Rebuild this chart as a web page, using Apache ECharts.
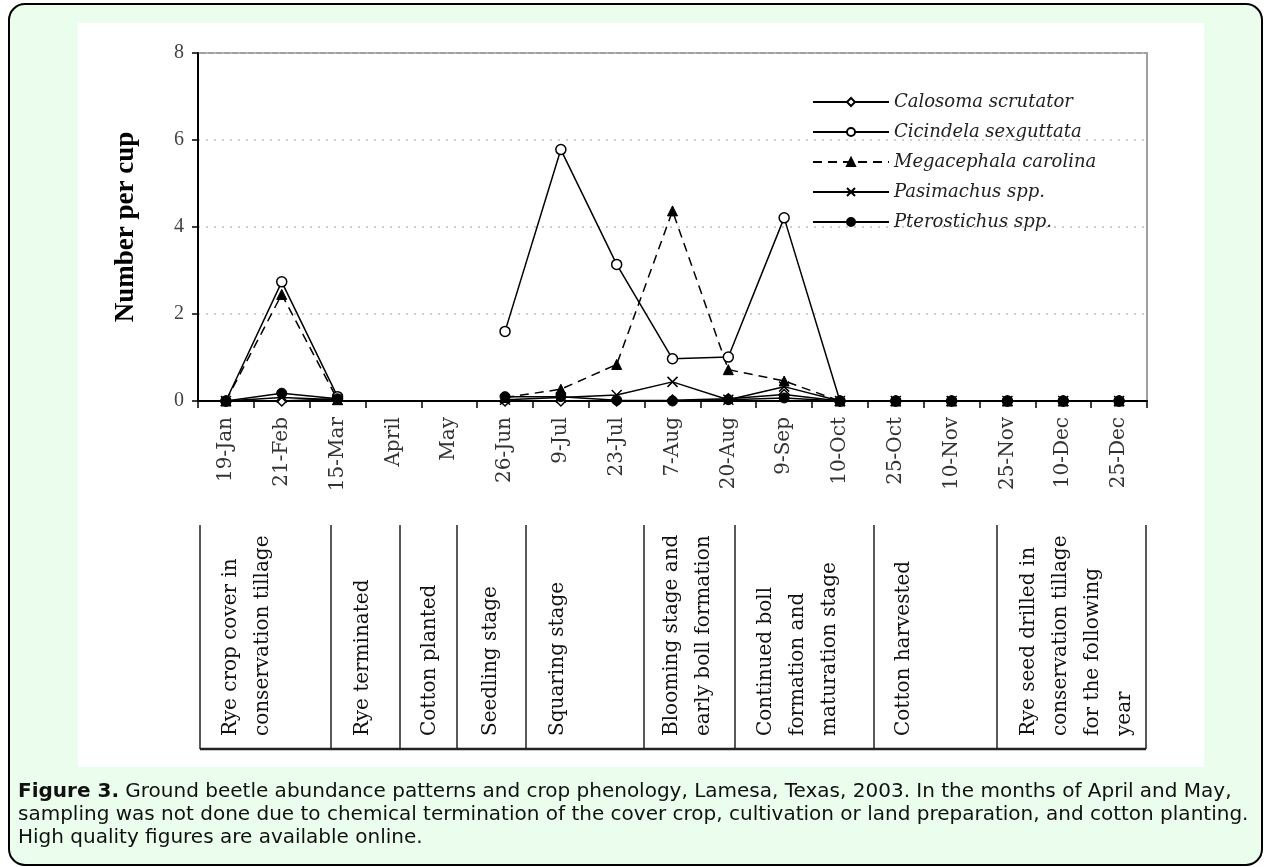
<!DOCTYPE html>
<html><head><meta charset="utf-8">
<script src="https://cdn.jsdelivr.net/npm/echarts/dist/echarts.min.js"></script>
<style>
html,body{margin:0;padding:0;background:#fff;}
#frame{position:absolute;left:8px;top:3px;width:1251px;height:859px;border:2px solid #000;border-radius:17px;background:#ebfdec;}
#panel{position:absolute;left:78px;top:23px;width:1126px;height:744px;background:#fff;}
#c{position:absolute;left:0;top:0;width:1266px;height:867px;}
</style>
</head><body>
<div id="frame"></div><div id="panel"></div>
<div id="c"></div>
<script>
// ---- data ----
const categories = ['19-Jan','21-Feb','15-Mar','April','May','26-Jun','9-Jul','23-Jul','7-Aug','20-Aug','9-Sep','10-Oct','25-Oct','10-Nov','25-Nov','10-Dec','25-Dec'];
const calosoma     = [0, 0,    0.05, null, null, 0,    0,    0,    0.02, 0.05, 0.15, 0, 0, 0, 0, 0, 0];
const cicindela    = [0, 2.74, 0.10, null, null, 1.60, 5.78, 3.14, 0.97, 1.01, 4.21, 0, 0, 0, 0, 0, 0];
const megacephala  = [0, 2.45, 0.03, null, null, 0.08, 0.27, 0.84, 4.37, 0.72, 0.46, 0, 0, 0, 0, 0, 0];
const pasimachus   = [0, 0.08, 0.03, null, null, 0.03, 0.08, 0.14, 0.44, 0.03, 0.33, 0, 0, 0, 0, 0, 0];
const pterostichus = [0, 0.18, 0.05, null, null, 0.10, 0.10, 0.02, 0,    0.03, 0.07, 0, 0, 0, 0, 0, 0];
const seriesNames = ['Calosoma scrutator','Cicindela sexguttata','Megacephala carolina','Pasimachus spp.','Pterostichus spp.'];
const yTickValues = [0, 2, 4, 6, 8];
const stageLabels = [
  ['Rye crop cover in','conservation tillage'],
  ['Rye terminated'],
  ['Cotton planted'],
  ['Seedling stage'],
  ['Squaring stage'],
  ['Blooming stage and','early boll formation'],
  ['Continued boll','formation and','maturation stage'],
  ['Cotton harvested'],
  ['Rye seed drilled in','conservation tillage','for the following','year']
];
const captionLines = [
  '{b|Figure 3.} Ground beetle abundance patterns and crop phenology, Lamesa, Texas, 2003. In the months of April and May,',
  'sampling was not done due to chemical termination of the cover crop, cultivation or land preparation, and cotton planting.',
  'High quality figures are available online.'
];

// ---- layout (pixels) ----
const tableCols = [200, 331, 400, 457, 526, 644, 735, 874, 997, 1146];
const stageTextX = [247, 363, 430, 491, 558, 688, 798, 904, 1077];
const tableTop = 525, tableBottom = 749;

const serif = 'Liberation Serif, Times New Roman, serif';
const baseLine = {color:'#000', width:1.5};

function mkSeries(name, data, symbol, itemStyle, lineType){
  return {
    name, type:'line', data, symbol, symbolSize: 10,
    connectNulls:false, animation:false,
    lineStyle: Object.assign({}, baseLine, lineType ? {type: lineType} : {}),
    itemStyle: itemStyle,
    emphasis:{disabled:true}
  };
}

const graphics = [];
tableCols.forEach(x => graphics.push({type:'line', shape:{x1:x, y1:tableTop, x2:x, y2:tableBottom}, style:{stroke:'#222', lineWidth:1.5}, silent:true}));
graphics.push({type:'line', shape:{x1:tableCols[0], y1:tableBottom, x2:tableCols[tableCols.length-1], y2:tableBottom}, style:{stroke:'#222', lineWidth:2.5}, silent:true});
stageLabels.forEach((lines, i) => graphics.push({
  type:'text', x: stageTextX[i], y: 736, rotation: Math.PI/2, silent:true,
  style:{text: lines.join('\n'), fontFamily:'DejaVu Serif', fontSize:20, lineHeight:32, fill:'#111', align:'left', verticalAlign:'middle'}
}));
const capY = [792, 815, 838];
captionLines.forEach((t, i) => graphics.push({
  type:'text', x:18, y:capY[i], silent:true,
  style:{text:t, fontFamily:'DejaVu Sans', fontSize:20, fill:'#111', align:'left', verticalAlign:'middle',
    rich:{b:{fontFamily:'DejaVu Sans', fontSize:20, fontWeight:'bold', fill:'#111'}}}
}));

const chart = echarts.init(document.getElementById('c'), null, {renderer:'canvas'});
chart.setOption({
  animation:false,
  backgroundColor:'transparent',
  grid:{left:198, right:119, top:53, bottom:466, show:true, borderColor:'#a0a0a0', borderWidth:2, backgroundColor:'#fff'},
  legend:{
    orient:'vertical', left:812, top:93, itemWidth:76, itemHeight:10, itemGap:12, padding:0,
    data: seriesNames,
    textStyle:{fontFamily:'DejaVu Serif', fontStyle:'italic', fontSize:18, color:'#222'}
  },
  xAxis:{
    type:'category', data:categories, boundaryGap:true,
    axisLine:{lineStyle:{color:'#000', width:2}},
    axisTick:{show:true, length:7, lineStyle:{color:'#000', width:1.5}},
    axisLabel:{rotate:90, interval:0, margin:16, fontFamily:'DejaVu Serif', fontSize:20, color:'#333'},
    splitLine:{show:false}
  },
  yAxis:{
    type:'value', min:yTickValues[0], max:yTickValues[yTickValues.length-1], interval:2,
    name:'Number per cup', nameLocation:'middle', nameGap:58, nameRotate:90,
    nameTextStyle:{fontFamily:serif, fontWeight:'bold', fontSize:27, color:'#000'},
    axisLine:{show:true, lineStyle:{color:'#000', width:2}},
    axisTick:{show:true, length:6, lineStyle:{color:'#000', width:1.5}},
    axisLabel:{margin:14, fontFamily:serif, fontSize:20, color:'#444'},
    splitLine:{show:true, lineStyle:{color:'#bdbdbd', width:1.5, type:[2,6]}}
  },
  series:[
    mkSeries(seriesNames[0], calosoma, 'diamond', {color:'#fff', borderColor:'#000', borderWidth:1.5}),
    mkSeries(seriesNames[1], cicindela, 'circle', {color:'#fff', borderColor:'#000', borderWidth:1.5}),
    mkSeries(seriesNames[2], megacephala, 'triangle', {color:'#000', borderColor:'#000', borderWidth:1}, [9,6]),
    mkSeries(seriesNames[3], pasimachus, 'path://M0,0L10,10M10,0L0,10', {color:'rgba(0,0,0,0)', borderColor:'#000', borderWidth:1.5}),
    mkSeries(seriesNames[4], pterostichus, 'circle', {color:'#000', borderColor:'#000', borderWidth:1})
  ],
  graphic: graphics
});
</script>
</body></html>
